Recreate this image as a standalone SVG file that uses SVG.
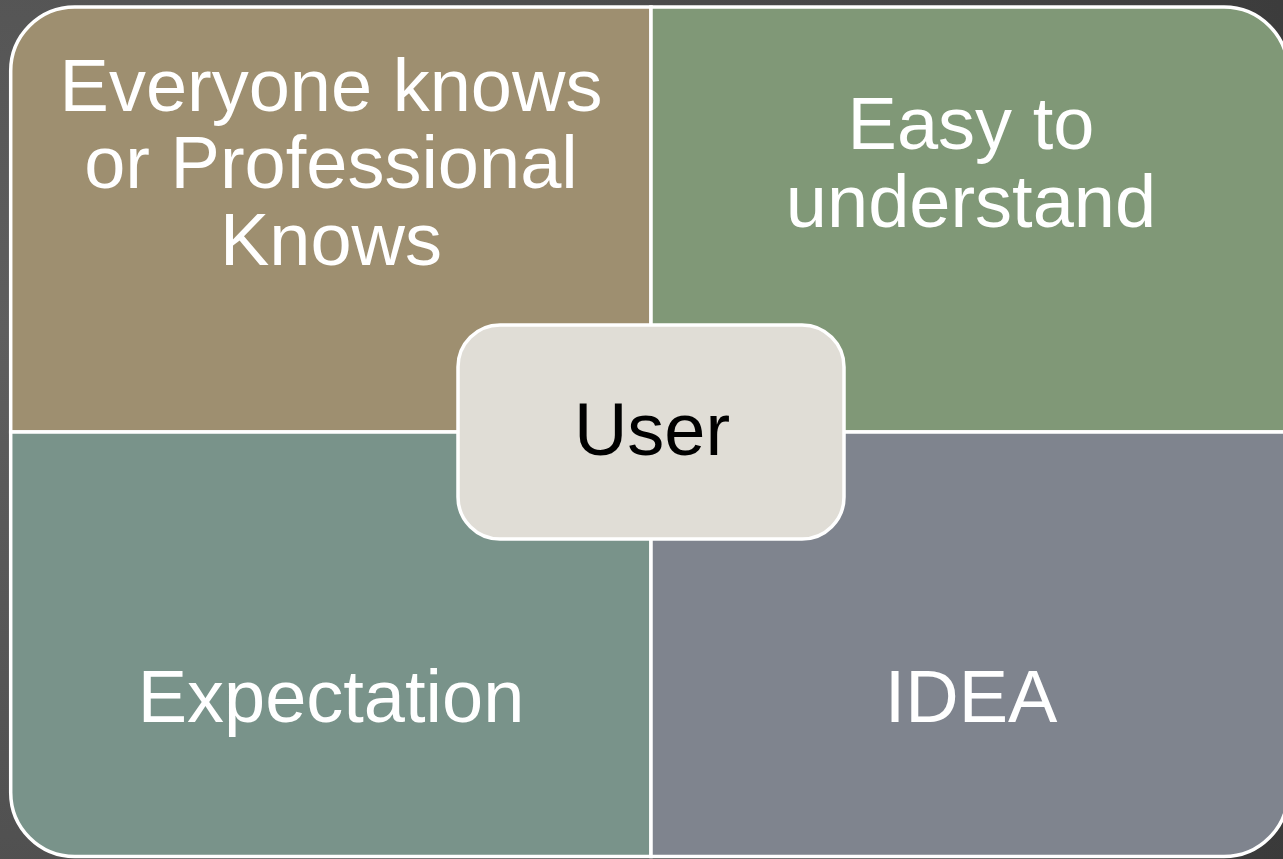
<svg xmlns="http://www.w3.org/2000/svg" width="1283" height="859" viewBox="0 0 1283 859">
  <defs>
    <radialGradient id="bg" cx="0" cy="330" r="1400" gradientUnits="userSpaceOnUse">
      <stop offset="0" stop-color="#5e5e5e"/>
      <stop offset="1" stop-color="#3a3a3a"/>
    </radialGradient>
    <style>
      .quad { stroke: #ffffff; stroke-width: 3.5; }
      .lbl { font-family: "Liberation Sans", Arial, sans-serif; font-size: 74px; fill: #ffffff; text-anchor: middle; }
      .center { fill: #E0DDD6; stroke: #ffffff; stroke-width: 3.5; }
      .clbl { font-family: "Liberation Sans", Arial, sans-serif; font-size: 74px; fill: #000000; text-anchor: middle; }
    </style>
  </defs>
  <rect x="0" y="0" width="1283" height="859" fill="url(#bg)"/>

  <g id="node-everyone">
    <path class="quad" fill="#9E8F70" d="M10.7,432 V71 A64,64 0 0 1 74.7,7 H651 V432 Z"/>
    <text class="lbl" x="331" y="111">Everyone knows</text>
    <text class="lbl" x="331" y="188">or Professional</text>
    <text class="lbl" x="331" y="265">Knows</text>
  </g>
  <g id="node-easy">
    <path class="quad" fill="#809877" d="M651,7 H1224 A64,64 0 0 1 1288,71 V432 H651 Z"/>
    <text class="lbl" x="971" y="149">Easy to</text>
    <text class="lbl" x="971" y="227">understand</text>
  </g>
  <g id="node-expectation">
    <path class="quad" fill="#79938A" d="M10.7,432 H651 V856.5 H74.7 A64,64 0 0 1 10.7,792.5 Z"/>
    <text class="lbl" x="331" y="722">Expectation</text>
  </g>
  <g id="node-idea">
    <path class="quad" fill="#7F848E" d="M651,432 H1288 V792.5 A64,64 0 0 1 1224,856.5 H651 Z"/>
    <text class="lbl" x="971" y="722">IDEA</text>
  </g>
  <g id="connectors"></g>
  <g id="node-user">
    <rect class="center" x="458" y="325" width="386" height="214" rx="42" ry="42"/>
    <text class="clbl" x="652" y="455">User</text>
  </g>
</svg>
